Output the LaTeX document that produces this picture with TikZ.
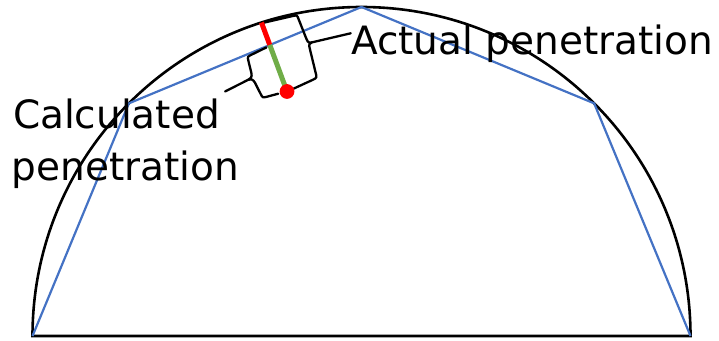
\documentclass[tikz,border=0pt]{standalone}
\usepackage{fontspec}
\setmainfont{DejaVu Sans}
\usetikzlibrary{calc}
\definecolor{chordblue}{RGB}{68,114,196}
\definecolor{calcgreen}{RGB}{112,173,71}
\definecolor{actred}{RGB}{255,0,0}
\tikzset{
  outline/.style={black, line width=2.6pt},
  chord/.style={chordblue, line width=2.2pt, line join=miter},
  bracepath/.style={black, line width=2.3pt, line join=round, line cap=round},
  label/.style={inner sep=0pt, anchor=base west, font=\fontsize{39}{46}\selectfont},
}
\begin{document}
\begin{tikzpicture}[x=1pt, y=1pt]
  \useasboundingbox (0,0) rectangle (719,340);

  % half disc: centre, ends of the diameter
  \coordinate (O) at (361.5,4);
  \coordinate (L) at (32.5,4);
  \coordinate (R) at (690.5,4);

  % vertices of the inscribed polygon
  \coordinate (V135) at ($(O)+(135:329)$);
  \coordinate (V90)  at ($(O)+(90:329)$);
  \coordinate (V45)  at ($(O)+(45:329)$);

  % penetration probe: point on the arc and the contact point
  \coordinate (Ptop) at ($(O)+(107.7:329)$);
  \coordinate (D) at (287,248.5);
  \coordinate (X) at (intersection of Ptop--D and V135--V90);

  % semicircle and diameter
  \draw[outline] (R) arc[start angle=0, end angle=180, radius=329] -- cycle;

  % inscribed polygon
  \draw[chord] (L) -- (V135) -- (V90) -- (V45) -- (R);

  % braces, drawn in a frame aligned with the probe
  \begin{scope}[shift={(Ptop)}, rotate=-69.7]
    % actual penetration (right side)
    \draw[bracepath] (0.5,-1) -- (4.6,31) .. controls (5.2,36) .. (10,36)
      -- (31,36.5) .. controls (35,36.5) and (36,38) .. (36,40)
      .. controls (36,38) and (37,36.5) .. (41,36.3)
      -- (65,33.5) .. controls (71,33) .. (71.5,28) -- (73.5,2);
    \coordinate (acusp) at (36,40);
    \coordinate (atip) at (41,80);
    % calculated penetration (left side)
    \draw[bracepath] (25,-4) -- (26.5,-19) .. controls (27,-25) .. (31,-25.5)
      -- (44,-27) .. controls (48,-27.5) and (49,-30) .. (49,-32)
      .. controls (49,-30) and (50,-27.5) .. (54,-27)
      -- (67,-25.5) .. controls (71,-25) .. (71.5,-20) -- (72.5,-9);
    \coordinate (ccusp) at (49,-32);
    \coordinate (ctip) at (52,-58);
  \end{scope}
  \draw[bracepath] (acusp) -- (atip);
  \draw[bracepath] (ccusp) -- (ctip);

  % probe: part outside the polygon (red) and inside it (green)
  \draw[actred, line width=5pt] (Ptop) -- (X);
  \draw[calcgreen, line width=5pt] (X) -- (D);
  \fill[actred] (D) circle[radius=7.4];

  % labels
  \node[label] (actual) at (351,285) {Actual penetration};
  \node[label] (calcA) at (12.8,211.7) {Calculated};
  \node[label] (calcB) at (11.5,159) {penetration};
\end{tikzpicture}
\end{document}
